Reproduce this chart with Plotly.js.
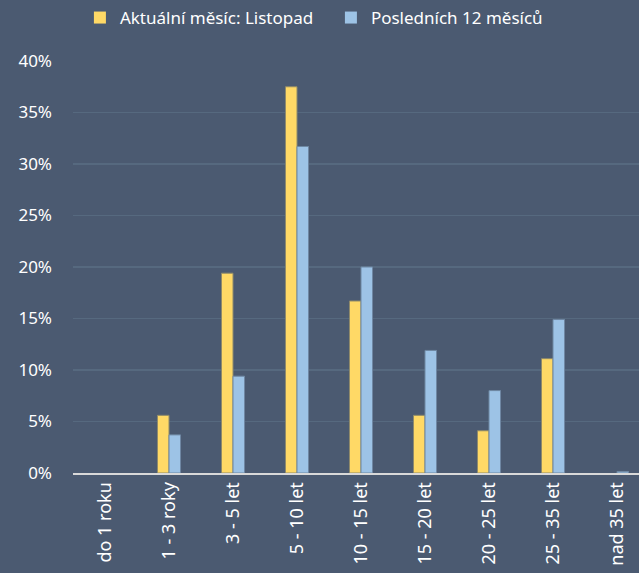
<!DOCTYPE html>
<html><head><meta charset="utf-8">
<script src="https://cdn.plot.ly/plotly-3.0.1.min.js"></script>
<style>html,body{margin:0;padding:0;overflow:hidden;background:#4B5A71;}</style>
</head><body>
<div id="chart"></div>
<script>
const categories = ["do 1 roku","1 - 3 roky","3 - 5 let","5 - 10 let","10 - 15 let","15 - 20 let","20 - 25 let","25 - 35 let","nad 35 let"];
const currentMonth = [0, 0.056, 0.194, 0.375, 0.167, 0.056, 0.041, 0.111, 0];
const last12Months = [0, 0.037, 0.094, 0.317, 0.200, 0.119, 0.080, 0.149, 0.0015];
const yTicks = [0,0.05,0.10,0.15,0.20,0.25,0.30,0.35,0.40];
const yTickLabels = ["0%","5%","10%","15%","20%","25%","30%","35%","40%"];

const outlineW = arr => arr.map(v => v > 0 ? 1 : 0);
const data = [
  {type:'bar', name:'Aktuální měsíc: Listopad', x:categories, y:currentMonth,
   marker:{color:'#FFD966', line:{color:'#8f8a6a', width:outlineW(currentMonth)}}},
  {type:'bar', name:'Posledních 12 měsíců', x:categories, y:last12Months,
   marker:{color:'#9DC3E6', line:{color:'#6f88a3', width:outlineW(last12Months)}}}
];
const layout = {
  width:649, height:573,
  margin:{l:73, r:0, t:61, b:100},
  paper_bgcolor:'#4B5A71', plot_bgcolor:'#4B5A71',
  font:{family:'Noto Sans, sans-serif', color:'#FFFFFF', size:16},
  barmode:'group', bargap:0.64, bargroupgap:0,
  showlegend:true,
  legend:{orientation:'h', x:0.012, xanchor:'left', y:1, yref:'container', yanchor:'top',
          font:{size:17, color:'#FFFFFF'}, itemwidth:30, entrywidth:206, traceorder:'normal', bgcolor:'rgba(0,0,0,0)'},
  xaxis:{type:'category', range:[-0.5,8.5], tickangle:-90, showgrid:false, zeroline:false,
         showline:true, linecolor:'#D9D9D9', linewidth:2, ticks:'', tickfont:{size:18, color:'#FFFFFF'}},
  yaxis:{range:[0,0.4], tickvals:yTicks, ticktext:yTickLabels, showgrid:true, gridcolor:'#56697F', gridwidth:1.5,
         zeroline:false, showline:false, ticks:'', ticklabelstandoff:20, tickfont:{size:17, color:'#FFFFFF'}},
};
Plotly.newPlot('chart', data, layout, {displayModeBar:false, staticPlot:true});
</script>
</body></html>
